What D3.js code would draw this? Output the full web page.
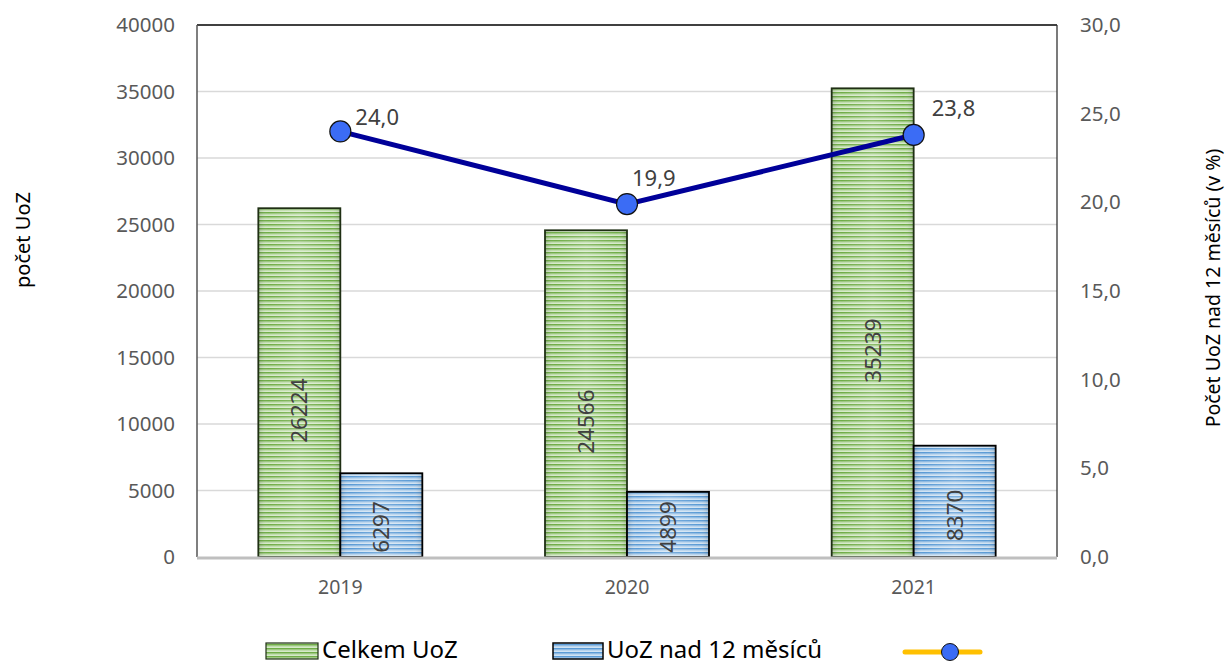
<!DOCTYPE html>
<html><head><meta charset="utf-8">
<script src="https://cdn.jsdelivr.net/npm/d3@7"></script>
<style>
body{margin:0;background:#fff;}
text{font-family:"Noto Sans","Open Sans",sans-serif;}
</style></head>
<body><svg id="c" width="1229" height="666"></svg>
<script>
const years = ["2019","2020","2021"];
const totalUoZ = [26224, 24566, 35239];
const over12 = [6297, 4899, 8370];
const sharePct = [24.0, 19.9, 23.8];
const leftTicks = [0,5000,10000,15000,20000,25000,30000,35000,40000];
const rightTicks = [0,5,10,15,20,25,30];
const seriesNames = ["Celkem UoZ","UoZ nad 12 měsíců"];

const FONT = '"Noto Sans","Open Sans",sans-serif';
const svg = d3.select("#c");
const L=197, R=1057, T=25, B=557;
const x = d3.scaleBand().domain(years).range([L,R]).paddingInner(0).paddingOuter(0);
const yL = d3.scaleLinear().domain([0,40000]).range([B,T]);
const yR = d3.scaleLinear().domain([0,30]).range([B,T]);
const bw = 82;

const defs = svg.append("defs");
function makePattern(id, dark, light, mid){
  const p = defs.append("pattern").attr("id",id).attr("patternUnits","userSpaceOnUse").attr("width",8).attr("height",4);
  p.append("rect").attr("width",8).attr("height",4).attr("fill",light);
  p.append("rect").attr("y",0).attr("width",8).attr("height",1.6).attr("fill",dark);
  p.append("rect").attr("y",2.4).attr("width",8).attr("height",0.8).attr("fill",mid);
}
makePattern("pG","#70ad47","#e2f0d9","#a9d18e");
makePattern("pB","#5b9bd5","#deebf7","#9dc3e6");
const g = defs.append("linearGradient").attr("id","shade").attr("x1","0").attr("x2","1").attr("y1","0").attr("y2","0");
g.append("stop").attr("offset","0").attr("stop-color","#000").attr("stop-opacity",0.15);
g.append("stop").attr("offset","0.12").attr("stop-color","#fff").attr("stop-opacity",0.0);
g.append("stop").attr("offset","0.5").attr("stop-color","#fff").attr("stop-opacity",0.2);
g.append("stop").attr("offset","0.88").attr("stop-color","#fff").attr("stop-opacity",0.0);
g.append("stop").attr("offset","1").attr("stop-color","#000").attr("stop-opacity",0.15);

// gridlines
svg.append("g").selectAll("line").data(leftTicks.slice(1,-1)).join("line")
  .attr("x1",L).attr("x2",R).attr("y1",d=>yL(d)).attr("y2",d=>yL(d))
  .attr("stroke","#d9d9d9").attr("stroke-width",1.5);

// frame
svg.append("line").attr("x1",L).attr("x2",R).attr("y1",T).attr("y2",T).attr("stroke","#000").attr("stroke-width",1.3);
svg.append("line").attr("x1",L).attr("x2",L).attr("y1",T).attr("y2",B).attr("stroke","#555").attr("stroke-width",1.5);
svg.append("line").attr("x1",R).attr("x2",R).attr("y1",T).attr("y2",B).attr("stroke","#333").attr("stroke-width",1.3);

// bars
function drawBars(vals, off, pat, stroke){
  const gg = svg.append("g");
  vals.forEach((v,i)=>{
    const cx = x(years[i]) + x.bandwidth()/2;
    const x0 = cx + off;
    gg.append("rect").attr("x",x0).attr("y",yL(v)).attr("width",bw).attr("height",yL(0)-yL(v)).attr("fill","url(#"+pat+")");
    gg.append("rect").attr("x",x0).attr("y",yL(v)).attr("width",bw).attr("height",yL(0)-yL(v)).attr("fill","url(#shade)")
      .attr("stroke",stroke).attr("stroke-width",1.8);
  });
}
drawBars(totalUoZ, -bw, "pG", "#1f2f14");
drawBars(over12, 0, "pB", "#000");

// bottom axis line
svg.append("line").attr("x1",L).attr("x2",R).attr("y1",B+1).attr("y2",B+1).attr("stroke","#bfbfbf").attr("stroke-width",3);

// bar labels (rotated)
function barLabels(vals, off, yPos){
  vals.forEach((v,i)=>{
    const cx = x(years[i]) + x.bandwidth()/2 + off + bw/2;
    const cy = yPos(v);
    svg.append("text").attr("transform",`translate(${cx+8},${cy}) rotate(-90)`)
      .attr("text-anchor","middle").attr("font-size",22.5).attr("fill","#404040").text(v);
  });
}
barLabels(totalUoZ, -bw, v => (yL(v)+yL(0))/2 + 28);
barLabels(over12, 0, v => Math.min((yL(v)+yL(0))/2 + 14, yL(0) - 30));

// left axis
const ax = svg.append("g").attr("transform",`translate(${L},0)`)
  .call(d3.axisLeft(yL).tickValues(leftTicks).tickFormat(d3.format("d")).tickSize(0).tickPadding(22));
ax.select(".domain").remove();
ax.selectAll("text").attr("font-size",20.5).attr("fill","#595959").attr("font-family",FONT);

const axr = svg.append("g").attr("transform",`translate(${R},0)`)
  .call(d3.axisRight(yR).tickValues(rightTicks).tickFormat(d=>d3.format(".1f")(d).replace(".",",")).tickSize(0).tickPadding(23));
axr.select(".domain").remove();
axr.selectAll("text").attr("font-size",20.5).attr("fill","#595959").attr("font-family",FONT);

const axb = svg.append("g").attr("transform",`translate(0,${B})`)
  .call(d3.axisBottom(x).tickSize(0).tickPadding(23));
axb.select(".domain").remove();
axb.selectAll("text").attr("font-size",19.5).attr("fill","#595959").attr("font-family",FONT);

// axis titles
svg.append("text").attr("transform","translate(30,240) rotate(-90)").attr("text-anchor","middle")
  .attr("font-size",20).attr("fill","#000").text("počet UoZ");
svg.append("text").attr("transform","translate(1220,288) rotate(-90)").attr("text-anchor","middle")
  .attr("font-size",19.5).attr("fill","#000").text("Počet UoZ nad 12 měsíců (v %)");

// line
const cxs = years.map(y=>x(y)+x.bandwidth()/2);
svg.append("path").datum(sharePct).attr("fill","none").attr("stroke","#000099").attr("stroke-width",5)
  .attr("d", d3.line().x((d,i)=>cxs[i]).y(d=>yR(d)));
svg.append("g").selectAll("circle").data(sharePct).join("circle")
  .attr("cx",(d,i)=>cxs[i]).attr("cy",d=>yR(d)).attr("r",10.5)
  .attr("fill","#3b6cf5").attr("stroke","#111").attr("stroke-width",1.2);
const lblOff = [[15,-6],[5,-18],[18,-19]];
svg.append("g").selectAll("text").data(sharePct).join("text")
  .attr("x",(d,i)=>cxs[i]+lblOff[i][0]).attr("y",(d,i)=>yR(d)+lblOff[i][1])
  .attr("font-size",22).attr("fill","#404040")
  .text(d=>d3.format(".1f")(d).replace(".",","));

// legend
const lg = svg.append("g");
lg.append("rect").attr("x",266).attr("y",643).attr("width",52).attr("height",16).attr("fill","url(#pG)").attr("stroke","#1f2f14").attr("stroke-width",1.2);
lg.append("text").attr("x",322).attr("y",658).attr("font-size",24).attr("fill","#000").text(seriesNames[0]);
lg.append("rect").attr("x",553).attr("y",643).attr("width",50).attr("height",16).attr("fill","url(#pB)").attr("stroke","#000").attr("stroke-width",1.5);
lg.append("text").attr("x",607).attr("y",658).attr("font-size",24).attr("fill","#000").text(seriesNames[1]);
lg.append("line").attr("x1",905).attr("x2",980).attr("y1",652).attr("y2",652).attr("stroke","#ffc000").attr("stroke-width",5).attr("stroke-linecap","round");
lg.append("circle").attr("cx",950).attr("cy",652).attr("r",8.5).attr("fill","#3b6cf5").attr("stroke","#111").attr("stroke-width",1);
</script></body></html>
